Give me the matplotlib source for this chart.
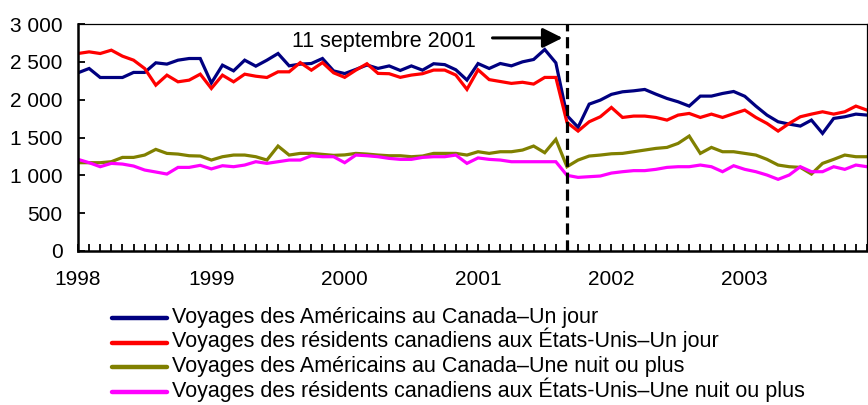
import matplotlib
matplotlib.use("Agg")
import matplotlib.pyplot as plt
from matplotlib.lines import Line2D
import numpy as np

plt.rcParams['font.family'] = ['Liberation Sans', 'DejaVu Sans']

# Monthly values, January 1998 to December 2003 (thousands of trips)
years = ["1998", "1999", "2000", "2001", "2002", "2003"]

us_same_day = [
    2355, 2412, 2293, 2293, 2293, 2360, 2360, 2487, 2470, 2522, 2544, 2544,
    2220, 2456, 2381, 2522, 2443, 2522, 2610, 2447, 2470, 2478, 2544, 2380,
    2345, 2400, 2458, 2413, 2446, 2386, 2446, 2390, 2475, 2463, 2395, 2259,
    2477, 2412, 2478, 2447, 2500, 2531, 2663, 2487, 1790, 1635, 1941, 1994,
    2070, 2104, 2117, 2135, 2073, 2016, 1972, 1915, 2047, 2047, 2082, 2108,
    2045, 1915, 1796, 1708, 1677, 1651, 1730, 1554, 1752, 1774, 1809, 1796,
]
cdn_same_day = [
    2610, 2632, 2610, 2654, 2575, 2522, 2412, 2192, 2324, 2236, 2258, 2337,
    2148, 2324, 2236, 2337, 2310, 2293, 2368, 2368, 2490, 2390, 2490, 2355,
    2295, 2390, 2475, 2347, 2343, 2295, 2325, 2343, 2391, 2391, 2325, 2136,
    2395, 2265, 2240, 2215, 2230, 2206, 2294, 2294, 1700, 1585, 1708, 1774,
    1897, 1765, 1783, 1783, 1765, 1730, 1796, 1818, 1765, 1809, 1765, 1815,
    1862, 1765, 1686, 1585, 1686, 1774, 1809, 1840, 1809, 1840, 1915, 1862,
]
us_overnight = [
    1167, 1167, 1167, 1180, 1237, 1237, 1268, 1343, 1290, 1281, 1259, 1255,
    1202, 1246, 1268, 1268, 1246, 1202, 1387, 1268, 1290, 1290, 1277, 1264,
    1270, 1290, 1281, 1268, 1259, 1259, 1246, 1255, 1290, 1290, 1290, 1268,
    1312, 1290, 1312, 1312, 1334, 1387, 1299, 1475, 1114, 1202, 1255, 1268,
    1285, 1290, 1312, 1334, 1356, 1369, 1422, 1519, 1290, 1369, 1312, 1312,
    1290, 1268, 1211, 1136, 1114, 1105, 1017, 1158, 1211, 1268, 1246, 1246,
]
cdn_overnight = [
    1211, 1167, 1114, 1158, 1149, 1123, 1070, 1044, 1017, 1105, 1105, 1132,
    1085, 1127, 1114, 1136, 1180, 1158, 1180, 1202, 1202, 1259, 1246, 1246,
    1167, 1268, 1259, 1246, 1224, 1211, 1211, 1237, 1246, 1246, 1268, 1158,
    1230, 1211, 1202, 1180, 1180, 1180, 1180, 1180, 1000, 973, 982, 991,
    1030, 1048, 1062, 1062, 1079, 1105, 1114, 1114, 1136, 1114, 1048, 1127,
    1079, 1048, 1004, 947, 1004, 1114, 1048, 1048, 1114, 1079, 1136, 1114,
]

labels = [
    "Voyages des Américains au Canada–Un jour",
    "Voyages des résidents canadiens aux États-Unis–Un jour",
    "Voyages des Américains au Canada–Une nuit ou plus",
    "Voyages des résidents canadiens aux États-Unis–Une nuit ou plus",
]
colors = ["#000080", "#FF0000", "#808000", "#FF00FF"]
series = [us_same_day, cdn_same_day, us_overnight, cdn_overnight]

sept_2001 = 44  # month index of September 2001

W, H = 868, 405
fig = plt.figure(figsize=(W / 100, H / 100), dpi=100)
ax = fig.add_axes([78 / W, 1 - 251 / H, 789 / W, 227 / H])

months = np.arange(len(us_same_day))
for vals, lab, col in zip(series, labels, colors):
    ax.plot(months, vals, color=col, lw=2.3, label=lab, solid_joinstyle='miter')

ax.axvline(sept_2001, color='black', lw=2.3, ls=(0, (3.5, 1.8)), zorder=5)

ax.annotate('', xy=(43.6, 2816), xytext=(37.3, 2816),
            arrowprops=dict(arrowstyle='-|>,head_length=0.6,head_width=0.3',
                            lw=2.2, color='black', mutation_scale=20,
                            shrinkA=0, shrinkB=0))
ax.text(19.3, 2770, "11 septembre 2001", fontsize=15.5, ha='left', va='center')

ax.set_xlim(0, len(months) - 1)
ax.set_ylim(0, 3000)
ax.set_xticks(months)
ax.set_xticklabels([years[i // 12] if i % 12 == 0 else "" for i in months])
ax.set_yticks(np.arange(0, 3001, 500))
ax.set_yticklabels([f"{v:,}".replace(",", " ") for v in range(0, 3001, 500)])
ax.tick_params(axis='both', direction='in', length=5, width=1.3,
               labelsize=15, colors='black')
ax.tick_params(axis='x', pad=14)
ax.tick_params(axis='y', pad=11)

for side in ['left', 'bottom']:
    ax.spines[side].set_linewidth(1.8)
for side in ['top', 'right']:
    ax.spines[side].set_linewidth(0.9)

# legend below the plot, one row per series, evenly spaced
for k, line in enumerate(ax.get_lines()[:4]):
    y_row = 1 - (318 + 24.5 * k) / H
    fig.add_artist(Line2D([112 / W, 167 / W], [y_row, y_row],
                          color=line.get_color(), lw=3.2,
                          solid_capstyle='round', transform=fig.transFigure))
    fig.text(172 / W, y_row - 5 / H, line.get_label(), fontsize=15.5,
             ha='left', va='baseline')

plt.savefig("out.png", dpi=100)
